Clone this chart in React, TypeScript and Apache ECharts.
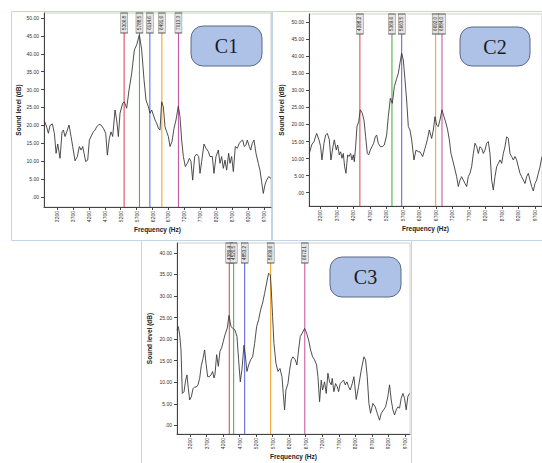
import { useEffect, useRef } from "react";
import * as echarts from "echarts";

const X_TICKS = [3200, 3700, 4200, 4700, 5200, 5700, 6200, 6700, 7200, 7700, 8200, 8700, 9200, 9700];
const Y_TICKS_50 = [0, 5, 10, 15, 20, 25, 30, 35, 40, 45, 50];
const Y_TICKS_40 = [0, 5, 10, 15, 20, 25, 30, 35, 40];

const C1_FREQ = [2802, 2876, 2928, 2980, 3053, 3116, 3169, 3221, 3294, 3357, 3399, 3451, 3504, 3577, 3640, 3692, 3765, 3838, 3901, 3954, 4006, 4048, 4100, 4163, 4215, 4288, 4341, 4393, 4445, 4519, 4582, 4655, 4728, 4780, 4843, 4895, 4948, 5021, 5073, 5126, 5178, 5262, 5314, 5387, 5461, 5544, 5628, 5701, 5785, 5858, 5932, 5994, 6068, 6120, 6172, 6225, 6277, 6329, 6382, 6434, 6486, 6539, 6591, 6643, 6696, 6748, 6811, 6874, 6936, 7010, 7062, 7114, 7167, 7229, 7292, 7355, 7407, 7460, 7522, 7585, 7648, 7690, 7742, 7816, 7878, 7952, 8004, 8077, 8129, 8192, 8266, 8318, 8370, 8423, 8475, 8527, 8590, 8632, 8684, 8737, 8799, 8862, 8925, 8967, 9030, 9082, 9134, 9176, 9239, 9281, 9333, 9386, 9448, 9521, 9574, 9626, 9678, 9731, 9783, 9846, 9919];
const C1_DB = [21.3, 19.5, 17.8, 20.0, 20.4, 17.8, 12.2, 14.8, 10.8, 18.2, 18.7, 16.9, 18.2, 20.1, 16.9, 14.1, 10.1, 11.3, 14.1, 13.1, 14.1, 12.2, 9.9, 10.3, 15.9, 17.3, 18.2, 18.7, 19.6, 20.3, 20.1, 19.2, 17.8, 11.7, 16.4, 18.2, 16.9, 24.3, 21.5, 16.9, 23.4, 26.2, 26.6, 24.8, 29.9, 34.5, 41.1, 42.5, 45.3, 41.1, 32.7, 27.1, 25.2, 23.4, 24.3, 22.9, 21.5, 20.6, 19.2, 18.7, 26.6, 25.2, 19.6, 18.2, 16.9, 14.1, 15.5, 19.2, 21.5, 25.4, 22.4, 15.9, 11.3, 8.5, 9.4, 10.8, 9.9, 4.7, 11.3, 12.0, 11.3, 6.6, 9.9, 14.8, 13.6, 12.7, 11.3, 11.3, 6.6, 11.3, 13.1, 9.4, 11.3, 8.0, 10.3, 7.5, 12.2, 9.4, 11.3, 7.1, 14.1, 13.6, 15.0, 15.5, 15.9, 14.1, 14.6, 15.9, 14.1, 13.1, 15.0, 15.9, 12.2, 9.4, 7.5, 4.3, 1.0, 3.4, 4.7, 5.7, 5.2];

const C2_FREQ = [2867, 2938, 3008, 3089, 3160, 3210, 3250, 3311, 3361, 3412, 3473, 3523, 3584, 3624, 3684, 3725, 3775, 3816, 3856, 3896, 3937, 3977, 4028, 4068, 4118, 4159, 4199, 4230, 4270, 4310, 4361, 4411, 4472, 4522, 4573, 4623, 4663, 4714, 4764, 4815, 4865, 4906, 4956, 5017, 5077, 5138, 5209, 5259, 5320, 5380, 5441, 5501, 5562, 5612, 5663, 5713, 5764, 5814, 5865, 5915, 5966, 6036, 6097, 6167, 6218, 6299, 6369, 6440, 6500, 6571, 6622, 6672, 6723, 6773, 6823, 6884, 6944, 7005, 7055, 7106, 7156, 7207, 7257, 7328, 7378, 7429, 7479, 7530, 7580, 7631, 7681, 7732, 7782, 7833, 7883, 7934, 7984, 8035, 8085, 8135, 8186, 8236, 8287, 8337, 8388, 8438, 8489, 8539, 8590, 8640, 8690, 8741, 8791, 8842, 8892, 8943, 8993, 9043, 9094, 9144, 9195, 9245, 9296, 9346, 9397, 9447, 9498, 9548, 9599, 9649, 9700, 9750, 9801, 9851, 9911];
const C2_DB = [11.5, 14.0, 15.0, 17.4, 15.5, 13.5, 9.6, 14.5, 16.9, 17.4, 15.5, 9.6, 13.5, 15.5, 12.5, 14.0, 11.1, 12.0, 10.1, 11.5, 7.6, 5.7, 11.1, 10.6, 11.5, 9.6, 11.1, 9.1, 13.5, 19.4, 20.8, 24.3, 23.3, 21.3, 16.4, 11.5, 11.1, 12.5, 13.5, 14.5, 16.4, 16.9, 14.5, 13.5, 13.5, 14.0, 16.9, 22.3, 27.7, 26.2, 31.1, 33.1, 35.0, 38.0, 40.9, 38.9, 33.1, 27.2, 19.4, 18.4, 15.5, 9.6, 12.5, 12.0, 12.0, 10.6, 13.0, 15.5, 18.4, 15.9, 18.4, 22.3, 19.8, 19.4, 21.3, 24.3, 22.3, 20.4, 18.4, 15.5, 11.5, 9.6, 7.6, 4.7, 1.8, 3.7, 4.7, 3.7, 2.7, 1.8, 4.7, 5.7, 7.6, 11.5, 14.5, 13.5, 11.5, 13.5, 13.0, 11.5, 12.5, 14.5, 15.0, 11.5, 3.7, 0.8, 4.7, 7.6, 8.6, 9.6, 8.6, 11.5, 13.5, 16.4, 15.9, 11.5, 10.6, 9.6, 10.6, 9.6, 7.6, 5.7, 4.7, 3.7, 2.7, 4.7, 5.7, 3.7, 1.8, 0.5, 2.7, 3.7, 5.7, 7.6, 10.6];

const C3_FREQ = [2807, 2847, 2888, 2928, 2968, 3019, 3069, 3109, 3150, 3190, 3240, 3291, 3341, 3391, 3442, 3492, 3543, 3593, 3643, 3684, 3734, 3785, 3835, 3885, 3925, 3956, 4006, 4057, 4107, 4157, 4208, 4258, 4329, 4379, 4440, 4500, 4561, 4621, 4671, 4722, 4772, 4833, 4873, 4923, 4974, 5034, 5095, 5155, 5216, 5276, 5337, 5397, 5457, 5518, 5578, 5629, 5659, 5699, 5740, 5800, 5861, 5921, 5982, 6022, 6062, 6102, 6163, 6213, 6264, 6314, 6384, 6435, 6485, 6536, 6596, 6667, 6727, 6788, 6848, 6909, 6969, 7030, 7070, 7120, 7170, 7211, 7271, 7321, 7372, 7422, 7473, 7503, 7553, 7604, 7654, 7695, 7745, 7795, 7846, 7896, 7947, 7997, 8047, 8108, 8158, 8229, 8299, 8380, 8461, 8511, 8561, 8612, 8662, 8733, 8803, 8864, 8934, 8985, 9055, 9116, 9186, 9236, 9287, 9337, 9388, 9438, 9489, 9539, 9589, 9640, 9690, 9740, 9791, 9841];
const C3_DB = [22.1, 22.9, 21.0, 17.5, 7.4, 7.8, 10.5, 11.7, 8.5, 5.9, 6.6, 8.5, 8.9, 8.9, 9.4, 10.9, 13.9, 15.5, 17.5, 14.4, 11.3, 11.3, 11.7, 12.5, 11.0, 11.8, 16.4, 13.7, 17.2, 18.0, 19.5, 21.0, 22.6, 25.5, 22.9, 22.5, 22.1, 20.6, 15.2, 10.1, 13.0, 18.6, 16.3, 12.5, 14.0, 15.2, 15.9, 19.0, 22.9, 24.5, 26.8, 28.4, 30.6, 33.0, 35.3, 34.9, 31.4, 25.2, 19.0, 14.4, 12.5, 13.2, 11.3, 7.4, 3.6, 8.2, 9.7, 12.8, 15.2, 15.9, 15.2, 14.0, 17.5, 20.6, 21.4, 22.5, 21.4, 19.8, 17.5, 15.9, 15.2, 14.0, 11.3, 5.5, 10.5, 8.2, 10.1, 7.4, 12.1, 10.1, 9.4, 10.9, 7.8, 9.7, 9.0, 7.8, 9.7, 10.1, 10.5, 9.4, 10.1, 9.0, 8.2, 9.7, 11.3, 6.0, 9.0, 12.8, 15.9, 15.2, 11.3, 5.1, 2.8, 5.1, 4.3, 2.8, 1.2, 2.8, 3.6, 4.3, 6.7, 9.4, 5.9, 3.6, 2.4, 3.6, 4.3, 4.0, 6.3, 7.4, 6.3, 3.6, 6.7, 7.4];

const C1_MARKS = [5306.8, 5788.5, 6114.6, 6491.6, 7013.3];
const C2_MARKS = [4398.2, 5369.6, 5663.5, 6692.0, 6884.0];
const C3_MARKS = [4389.4, 4520.5, 4853.2, 5639.6, 6672.1];
const MARK_COLORS = ["#e0505c", "#4fb04f", "#6a6ae0", "#f2a52e", "#c85aa6"];

const PANEL_NAMES = ["C1", "C2", "C3"];

export default function App() {
  const ref = useRef<HTMLDivElement>(null);
  useEffect(() => {
    if (!ref.current) return;
    const chart = echarts.init(ref.current, null, { renderer: "svg" });

    const panels = [
      { freq: C1_FREQ, db: C1_DB, marks: C1_MARKS, yTicks: Y_TICKS_50, grid: { left: 44, top: 13, width: 227, height: 194 }, x: [2790, 9920], y: [-2.8, 51.4], yGap: 22 },
      { freq: C2_FREQ, db: C2_DB, marks: C2_MARKS, yTicks: Y_TICKS_50, grid: { left: 309, top: 14, width: 233, height: 192 }, x: [2858, 9912], y: [-3.9, 52.4], yGap: 24 },
      { freq: C3_FREQ, db: C3_DB, marks: C3_MARKS, yTicks: Y_TICKS_40, grid: { left: 177, top: 243, width: 233, height: 191 }, x: [2807, 9855], y: [-2.0, 42.3], yGap: 24 },
    ];

    const axisFont = { fontFamily: "Liberation Sans", color: "#333" };

    const grid = panels.map((p) => ({
      ...p.grid,
      show: true,
      borderColor: "#cfcfcf",
      borderWidth: 1,
      backgroundColor: "#fff",
    }));

    const xAxis = panels.map((p, i) => ({
      type: "value",
      gridIndex: i,
      min: p.x[0],
      max: p.x[1],
      name: "Frequency (Hz)",
      nameLocation: "middle",
      nameGap: 19,
      nameTextStyle: { ...axisFont, fontSize: 6.5, fontWeight: "bold", color: "#222" },
      axisLine: { show: true, onZero: false, lineStyle: { color: "#444", width: 1 } },
      axisTick: { show: true, length: 3, customValues: X_TICKS, lineStyle: { color: "#444" } },
      axisLabel: { ...axisFont, fontSize: 5, rotate: 90, margin: 4, customValues: X_TICKS, formatter: (v: number) => String(v) },
      splitLine: { show: false },
    }));

    const yAxis = panels.map((p, i) => ({
      type: "value",
      gridIndex: i,
      min: p.y[0],
      max: p.y[1],
      name: "Sound level (dB)",
      nameLocation: "middle",
      nameGap: p.yGap,
      nameRotate: 90,
      nameTextStyle: { ...axisFont, fontSize: 6.5, fontWeight: "bold", color: "#222" },
      axisLine: { show: true, onZero: false, lineStyle: { color: "#444", width: 1 } },
      axisTick: { show: true, length: 3, customValues: p.yTicks, lineStyle: { color: "#444" } },
      axisLabel: {
        ...axisFont,
        fontSize: 5,
        margin: 5,
        customValues: p.yTicks,
        formatter: (v: number) => (v === 0 ? ".00" : v.toFixed(2)),
      },
      splitLine: { show: false },
    }));

    const series: any[] = [];
    panels.forEach((p, i) => {
      p.marks.forEach((m, j) => {
        series.push({
          type: "line",
          xAxisIndex: i,
          yAxisIndex: i,
          data: [[m, p.y[0]], [m, p.y[1]]],
          showSymbol: false,
          symbol: "none",
          silent: true,
          lineStyle: { color: MARK_COLORS[j], width: 1.1, type: "solid" },
          z: 2,
        });
      });
      series.push({
        type: "line",
        xAxisIndex: i,
        yAxisIndex: i,
        data: p.freq.map((f, k) => [f, p.db[k]]),
        showSymbol: false,
        symbol: "none",
        lineStyle: { color: "#3a3a3a", width: 0.9 },
        z: 3,
      });
      series.push({
        type: "scatter",
        xAxisIndex: i,
        yAxisIndex: i,
        clip: false,
        symbol: "rect",
        symbolSize: [7, 20],
        symbolOffset: [0, 10],
        itemStyle: { color: "#e4e4e4", borderColor: "#555", borderWidth: 0.6, opacity: 1 },
        label: {
          show: true,
          position: "inside",
          rotate: 90,
          fontSize: 4.5,
          fontFamily: "Liberation Sans",
          color: "#222",
          formatter: (d: any) => d.value[0].toFixed(1),
        },
        z: 6,
        data: p.marks.map((m) => [m, p.y[1]]),
      });
    });

    const frameStyle = { fill: "none", stroke: "#c3d5ea", lineWidth: 1 };
    const boxes = [
      { x: 191, y: 26, w: 71, h: 40 },
      { x: 460, y: 27, w: 70, h: 39 },
      { x: 330, y: 257, w: 71, h: 40 },
    ];
    const graphic: any[] = [
      { type: "rect", shape: { x: 11.5, y: 11.5, width: 260, height: 229 }, style: frameStyle, z: 0, silent: true },
      { type: "rect", shape: { x: 272.5, y: 11.5, width: 275, height: 229 }, style: frameStyle, z: 0, silent: true },
      { type: "rect", shape: { x: 141.5, y: 240.5, width: 270, height: 230 }, style: frameStyle, z: 0, silent: true },
    ];
    boxes.forEach((b, i) => {
      graphic.push({
        type: "rect",
        shape: { x: b.x, y: b.y, width: b.w, height: b.h, r: 12 },
        style: { fill: "#adc2e6", stroke: "#5a6a86", lineWidth: 1 },
        z: 10,
      });
      graphic.push({
        type: "text",
        x: b.x + b.w / 2,
        y: b.y + b.h / 2,
        style: {
          text: PANEL_NAMES[i],
          fontFamily: "Liberation Serif",
          fontSize: 20,
          fill: "#1b1b1b",
          textAlign: "center",
          textVerticalAlign: "middle",
        },
        z: 11,
      });
    });

    chart.setOption({
      animation: false,
      backgroundColor: "#fff",
      grid,
      xAxis,
      yAxis,
      series,
      graphic,
    });
    return () => chart.dispose();
  }, []);

  return <div ref={ref} style={{ position: "fixed", left: 0, top: 0, width: 542, height: 463 }} />;
}
